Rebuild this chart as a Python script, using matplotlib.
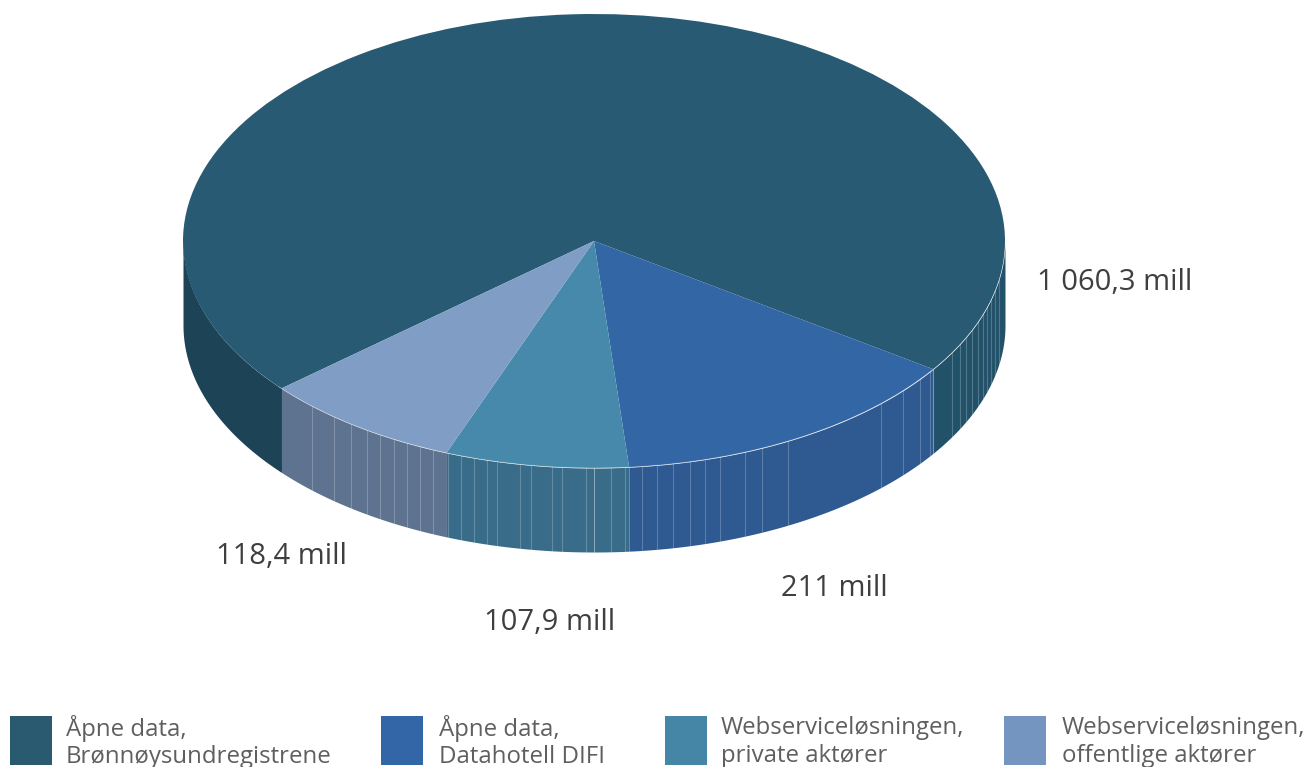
import matplotlib
matplotlib.use('Agg')
import matplotlib.pyplot as plt
import numpy as np
from matplotlib.patches import Rectangle

plt.rcParams['font.family'] = ['Open Sans', 'DejaVu Sans']

values = [1060.3, 211, 107.9, 118.4]
value_labels = ['1 060,3 mill', '211 mill', '107,9 mill', '118,4 mill']
names = ['Åpne data,\nBrønnøysundregistrene', 'Åpne data,\nDatahotell DIFI',
         'Webserviceløsningen,\nprivate aktører', 'Webserviceløsningen,\noffentlige aktører']
top_colors = ['#285a73', '#3366a5', '#4789ab', '#7f9dc5']
side_colors = ['#22516a', '#2e5a91', '#386c88', '#5e7390']
legend_colors = ['#2a5a70', '#3366a6', '#4586a7', '#7595c1']
# vertical seams seen in the side wall, pixel x
seams_x = [312, 334, 351, 367, 380, 394, 407, 420, 433, 448, 461, 474, 487, 497, 520, 531, 552, 562,
           586, 611, 625, 642, 657, 673, 690, 705, 720, 745, 762, 788, 881, 903, 920, 930, 933, 952,
           960, 966, 972, 978, 983, 987, 991, 995, 999]

W, H = 1312, 767
cx, cy, rx, ry, depth = 594, 241, 411, 227, 84
start = 220.5

fig = plt.figure(figsize=(W / 100, H / 100), dpi=100)
ax = fig.add_axes([0, 0, 1, 1])
wedges, _ = ax.pie(values, colors=top_colors, startangle=start, counterclock=False, radius=1, center=(0, 0),
                   wedgeprops={'linewidth': 0})
for w in wedges:
    w.set_zorder(5)
ax.set_aspect('auto')
ax.set_xlim(-cx / rx, (W - cx) / rx)
ax.set_ylim(-(H - cy) / ry, cy / ry)
ax.axis('off')

# side wall, follows the same wedge angles as the pie
d = depth / ry
edges = start - np.cumsum([0] + values) / sum(values) * 360
for i in range(4):
    a = np.radians(np.linspace(edges[i + 1], edges[i], 600))
    vis = np.sin(a) < 0
    # the big slice wraps round the back, so it gets two separate front pieces
    for part, col in ((np.cos(a) < 0, '#1d4357' if i == 0 else side_colors[i]),
                      (np.cos(a) >= 0, side_colors[i])):
        m = vis & part
        if m.sum() < 2:
            continue
        ax.fill_between(np.cos(a[m]), np.sin(a[m]), np.sin(a[m]) - d, color=col, lw=0, zorder=2)

for sx in seams_x:
    x = (sx - cx) / rx
    y = -np.sqrt(1 - x ** 2)
    ax.plot([x, x], [y, y - d], color='white', lw=0.8, alpha=0.22, zorder=3)

a = np.radians(np.linspace(-140, -35, 300))
ax.plot(np.cos(a), np.sin(a), color='white', lw=0.6, alpha=0.3, zorder=6)

label_pos = [(1037, 282), (781, 588), (484, 622), (216, 556)]
for txt, (x, y) in zip(value_labels, label_pos):
    fig.text(x / W, 1 - y / H, txt, ha='left', va='center', fontsize=21, color='#3f3f3f')

legend_x = [10, 381, 665, 1004]
legend_text_x = [66, 439, 721, 1062]
for name, col, x, tx in zip(names, legend_colors, legend_x, legend_text_x):
    fig.add_artist(Rectangle((x / W, 1 - 765 / H), 42 / W, 49 / H, transform=fig.transFigure,
                             facecolor=col, edgecolor='none'))
    fig.text(tx / W, 1 - 742 / H, name, ha='left', va='center', fontsize=17.3,
             color='#5f5f5f', linespacing=1.22)

fig.savefig('out.png', dpi=100)
